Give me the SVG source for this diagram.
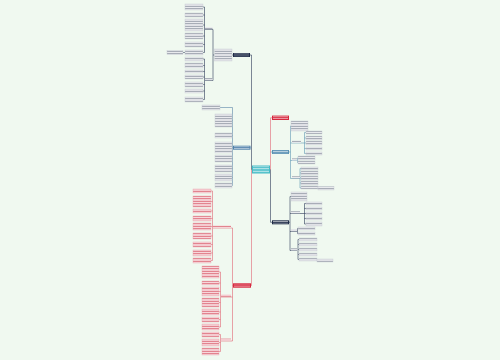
<svg xmlns="http://www.w3.org/2000/svg" width="500" height="360" viewBox="0 0 500 360">
<style>
.c{fill:none;stroke-width:0.6}
.cn{stroke:#2c3858}.cb{stroke:#5a84a8}.cr{stroke:#e06474}.ct{stroke:#5f97b4}
.lg{fill:url(#pg);stroke:#c5cad3;stroke-width:0.4}
.lr{fill:url(#pr);stroke:#e9a3ad;stroke-width:0.4}
.sg{fill:url(#pg)}
.sr{fill:url(#pr)}
.tw{fill:url(#pw)}
</style>
<defs>
<pattern id="pg" width="4" height="2.5" patternUnits="userSpaceOnUse"><rect width="4" height="2.5" fill="#fbfbfd"/><rect y="0.7" width="4" height="1.1" fill="#8c93a0"/></pattern>
<pattern id="pr" width="4" height="2.5" patternUnits="userSpaceOnUse"><rect width="4" height="2.5" fill="#fdeef0"/><rect y="0.7" width="4" height="1.1" fill="#d9606f"/></pattern>
<pattern id="pw" width="4" height="2.5" patternUnits="userSpaceOnUse"><rect y="0.7" width="4" height="1.1" fill="#ffffff" opacity="0.75"/></pattern>
</defs>
<rect width="500" height="360" fill="#f0f9f0"/>

<g id="connectors">
<path class="c cn" d="M252,169.5 H251.5 V55 H250"/>
<path class="c cb" d="M251.5,147.7 H250.5"/>
<path class="c cr" d="M251.5,169.5 V285.5 H251"/>
<path class="c cr" d="M270,169.5 H270.5 V117.8 H272"/>
<path class="c cn" d="M270.5,169.5 V222.3 H272"/>
<path class="c ct" d="M270.5,152 H272"/>
<path class="c cn" d="M233,55 H232 M214.5,55 H213 M213,29.5 V80.5 M213,29.5 H205 M213,80.5 H205 M204.5,7 V52.5 M204.5,59 V99.5 M185,52.5 H183"/>
<path class="c cn" d="M204.5,7 H203 M204.5,15 H203 M204.5,25 H203 M204.5,36 H203 M204.5,44.5 H203 M204.5,52.5 H203 M204.5,59 H203 M204.5,65.5 H203 M204.5,71.5 H203 M204.5,77 H203 M204.5,84.5 H203 M204.5,91 H203 M204.5,99.5 H203"/>
<path class="c cb" d="M233,147.7 H232.5 M232.5,107.5 V185.5 M232.5,107.5 H220 M232.5,120.5 H232 M232.5,135.5 H232 M232.5,158.5 H232 M232.5,168.5 H232 M232.5,177.5 H232 M232.5,185.5 H232"/>
<path class="c cr" d="M233,285.5 H232.5 M232.5,228 V341 M232.5,228 H213 M232.5,297 H221 M232.5,341 H221"/>
<path class="c cr" d="M212.5,191 V260.5 M212.5,191 H211 M212.5,201.5 H211 M212.5,211 H211 M212.5,218.5 H211 M212.5,226.5 H211 M212.5,236 H211 M212.5,244.5 H211 M212.5,253 H211 M212.5,260.5 H211"/>
<path class="c cr" d="M220.5,272 V327 M220.5,272 H219 M220.5,283 H219 M220.5,291.5 H219 M220.5,302.5 H219 M220.5,312 H219 M220.5,319.5 H219 M220.5,327 H219"/>
<path class="c cr" d="M220.5,334.5 V351.5 M220.5,334.5 H219 M220.5,342.5 H219 M220.5,351.5 H219"/>
<path class="c ct" d="M289,152 H290.5 M290.5,126 V178.5 M290.5,126 H291 M290.5,143 H301 M290.5,160.5 H297 M290.5,178.5 H300"/>
<path class="c ct" d="M304.5,132.5 V153.5 M301,143 H304.5 M304.5,132.5 H306 M304.5,138 H306 M304.5,143 H306 M304.5,148.5 H306 M304.5,153.5 H306"/>
<path class="c ct" d="M297.5,158 V162.5 M297.5,158 H298 M297.5,162.5 H298"/>
<path class="c ct" d="M300,168.5 V188 M300,168.5 H301 M300,173 H301 M300,178 H301 M300,183 H301 M300,188 H301"/>
<path class="c cn" d="M289,222.3 H290 M290,196.5 V250.5 M290,196.5 H291 M290,213.5 H300 M290,231.5 H297 M290,250.5 H297"/>
<path class="c cn" d="M304.5,203.5 V224 M300,213.5 H304.5 M304.5,203.5 H306 M304.5,208.5 H306 M304.5,213.5 H306 M304.5,218.5 H306 M304.5,224 H306"/>
<path class="c cn" d="M297.5,228.5 V233.5 M297.5,228.5 H298 M297.5,233.5 H298"/>
<path class="c cn" d="M298,239.5 V259.5 M298,239.5 H299 M298,244.5 H299 M298,249.5 H299 M298,254.5 H299 M298,259.5 H299"/>
</g>

<g id="root"><rect x="252" y="165.5" width="18" height="8" fill="#45bcc6"/><rect x="253" y="166.3" width="16" height="6.5" class="tw"/></g>

<g id="n-top-left"><rect x="233" y="53" width="17" height="4" fill="#1f2b47"/><rect x="234" y="53.6" width="15" height="2.6" class="tw"/></g>
<g id="n-mid-left"><rect x="233" y="145.7" width="17.5" height="4" fill="#4f80aa"/><rect x="234" y="146.3" width="15.5" height="2.6" class="tw"/></g>
<g id="n-red-left"><rect x="233" y="283.3" width="18" height="4.4" fill="#d6283e"/><rect x="234" y="284" width="16" height="2.6" class="tw"/></g>
<g id="n-red-right"><rect x="272" y="115.6" width="17" height="4.4" fill="#d6283e"/><rect x="273" y="116.3" width="15" height="2.6" class="tw"/></g>
<g id="n-mid-right"><rect x="272" y="150" width="17" height="4" fill="#5b92b4"/><rect x="273" y="150.6" width="15" height="2.6" class="tw"/></g>
<g id="n-bot-right"><rect x="272" y="220.3" width="17" height="4" fill="#1f2b47"/><rect x="273" y="220.9" width="15" height="2.6" class="tw"/></g>

<g id="tl-leaves">
<rect class="lg" x="214.5" y="49" width="17.5" height="12"/>
<rect class="sg" x="205" y="27" width="7.5" height="2.2"/>
<rect class="sg" x="205" y="78" width="7.5" height="2.2"/>
<rect class="lg" x="185" y="4" width="18" height="6"/>
<rect class="lg" x="185" y="13" width="18" height="4"/>
<rect class="lg" x="185" y="19" width="18" height="12"/>
<rect class="lg" x="185" y="33" width="18" height="6"/>
<rect class="lg" x="185" y="42" width="18" height="5"/>
<rect class="lg" x="185" y="50" width="18" height="5"/>
<rect class="lg" x="167" y="50.5" width="16" height="4"/>
<rect class="lg" x="185" y="57" width="18" height="4"/>
<rect class="lg" x="185" y="63" width="18" height="5"/>
<rect class="lg" x="185" y="70" width="18" height="3"/>
<rect class="lg" x="185" y="75" width="18" height="4"/>
<rect class="lg" x="185" y="82" width="18" height="5"/>
<rect class="lg" x="185" y="89" width="18" height="4"/>
<rect class="lg" x="185" y="97" width="18" height="5"/>
</g>

<g id="ml-leaves">
<rect class="lg" x="202" y="105" width="18" height="5"/>
<rect class="lg" x="215" y="114" width="17" height="13"/>
<rect class="lg" x="215" y="133" width="17" height="5"/>
<rect class="lg" x="215" y="142" width="17" height="11"/>
<rect class="lg" x="215" y="155" width="17" height="7"/>
<rect class="lg" x="215" y="165" width="17" height="7"/>
<rect class="lg" x="215" y="174" width="17" height="7"/>
<rect class="lg" x="215" y="183" width="17" height="5"/>
</g>

<g id="rl-leaves">
<rect class="sr" x="213" y="225.6" width="18" height="2.2"/>
<rect class="sr" x="221" y="294.6" width="10" height="2.2"/>
<rect class="sr" x="221" y="338.6" width="10" height="2.2"/>
<rect class="lr" x="193" y="189" width="18" height="4"/>
<rect class="lr" x="193" y="196" width="18" height="11"/>
<rect class="lr" x="193" y="209" width="18" height="4"/>
<rect class="lr" x="193" y="216" width="18" height="5"/>
<rect class="lr" x="193" y="223" width="18" height="7"/>
<rect class="lr" x="193" y="233" width="18" height="6"/>
<rect class="lr" x="193" y="242" width="18" height="5"/>
<rect class="lr" x="193" y="250" width="18" height="6"/>
<rect class="lr" x="193" y="258" width="18" height="5"/>
<rect class="lr" x="202" y="266" width="17" height="12"/>
<rect class="lr" x="202" y="281" width="17" height="4"/>
<rect class="lr" x="202" y="287" width="17" height="9"/>
<rect class="lr" x="202" y="298" width="17" height="9"/>
<rect class="lr" x="202" y="309" width="17" height="6"/>
<rect class="lr" x="202" y="317" width="17" height="5"/>
<rect class="lr" x="202" y="324" width="17" height="6"/>
<rect class="lr" x="202" y="332" width="17" height="5"/>
<rect class="lr" x="202" y="339" width="17" height="7"/>
<rect class="lr" x="202" y="348" width="17" height="7"/>
</g>

<g id="mr-leaves">
<rect class="lg" x="291" y="121" width="17" height="10"/>
<rect class="sg" x="292" y="140.6" width="9" height="2.2"/>
<rect class="sg" x="292" y="158.3" width="5" height="2.2"/>
<rect class="sg" x="292" y="176.2" width="8" height="2.2"/>
<rect class="lg" x="306" y="131" width="16" height="3"/>
<rect class="lg" x="306" y="136" width="16" height="4"/>
<rect class="lg" x="306" y="141" width="16" height="4"/>
<rect class="lg" x="306" y="147" width="16" height="3"/>
<rect class="lg" x="306" y="152" width="16" height="3"/>
<rect class="lg" x="298" y="156" width="17" height="4"/>
<rect class="lg" x="298" y="161" width="17" height="3"/>
<rect class="lg" x="301" y="167" width="17" height="3"/>
<rect class="lg" x="301" y="171" width="17" height="4"/>
<rect class="lg" x="301" y="176" width="17" height="4"/>
<rect class="lg" x="301" y="181" width="17" height="4"/>
<rect class="lg" x="301" y="186" width="17" height="3"/>
<rect class="lg" x="318" y="186.5" width="16" height="3.5"/>
</g>

<g id="br-leaves">
<rect class="lg" x="291" y="192" width="16" height="9"/>
<rect class="sg" x="291" y="211.2" width="9" height="2.2"/>
<rect class="sg" x="291" y="229.2" width="6" height="2.2"/>
<rect class="sg" x="291" y="248.2" width="6" height="2.2"/>
<rect class="lg" x="306" y="202" width="16" height="3"/>
<rect class="lg" x="306" y="207" width="16" height="3"/>
<rect class="lg" x="306" y="212" width="16" height="3"/>
<rect class="lg" x="306" y="217" width="16" height="3"/>
<rect class="lg" x="306" y="222" width="16" height="4"/>
<rect class="lg" x="298" y="227" width="17" height="3"/>
<rect class="lg" x="298" y="232" width="17" height="3"/>
<rect class="lg" x="299" y="238" width="18" height="3"/>
<rect class="lg" x="299" y="243" width="18" height="3"/>
<rect class="lg" x="299" y="248" width="18" height="3"/>
<rect class="lg" x="299" y="253" width="18" height="3"/>
<rect class="lg" x="299" y="258" width="18" height="3"/>
<rect class="lg" x="317" y="259" width="16" height="3"/>
</g>
</svg>
